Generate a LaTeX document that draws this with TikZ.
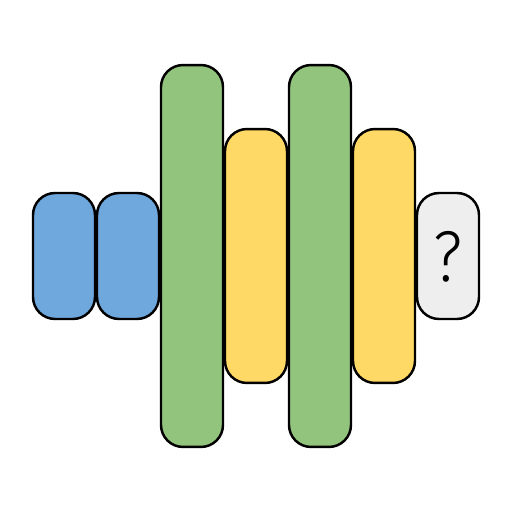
\documentclass[tikz,border=0pt]{standalone}
\usepackage{fontspec}
\setmainfont{Open Sans}
\newfontfamily\thinsans{Fira Sans Light}
\usepackage{tikz}
\usepackage{xcolor}
\definecolor{barblue}{HTML}{6FA8DC}
\definecolor{bargreen}{HTML}{93C47D}
\definecolor{baryellow}{HTML}{FFD966}
\definecolor{bargray}{HTML}{EEEEEE}
\tikzset{
  bar/.style={draw=black,line width=1.4pt,rounded corners=0.44cm,minimum width=1.24cm,inner sep=0pt},
  shortbar/.style={bar,minimum height=2.52cm},
  midbar/.style={bar,minimum height=5.08cm},
  longbar/.style={bar,minimum height=7.64cm}
}

\begin{document}
\begin{tikzpicture}[x=0.02cm,y=0.02cm]
\useasboundingbox (0,0) rectangle (512,512);
\node[shortbar,fill=barblue] (blueA) at (64,256) {};
\node[shortbar,fill=barblue] (blueB) at (128,256) {};
\node[longbar,fill=bargreen] (greenA) at (192,256) {};
\node[midbar,fill=baryellow] (yellowA) at (256,256) {};
\node[longbar,fill=bargreen] (greenB) at (320,256) {};
\node[midbar,fill=baryellow] (yellowB) at (384,256) {};
\node[shortbar,fill=bargray] (query) at (448,256) {};
\node[font=\thinsans\fontsize{41}{48}\selectfont,inner sep=0pt,xscale=0.9] (qmark) at (448,255) {?};
\end{tikzpicture}
\end{document}
